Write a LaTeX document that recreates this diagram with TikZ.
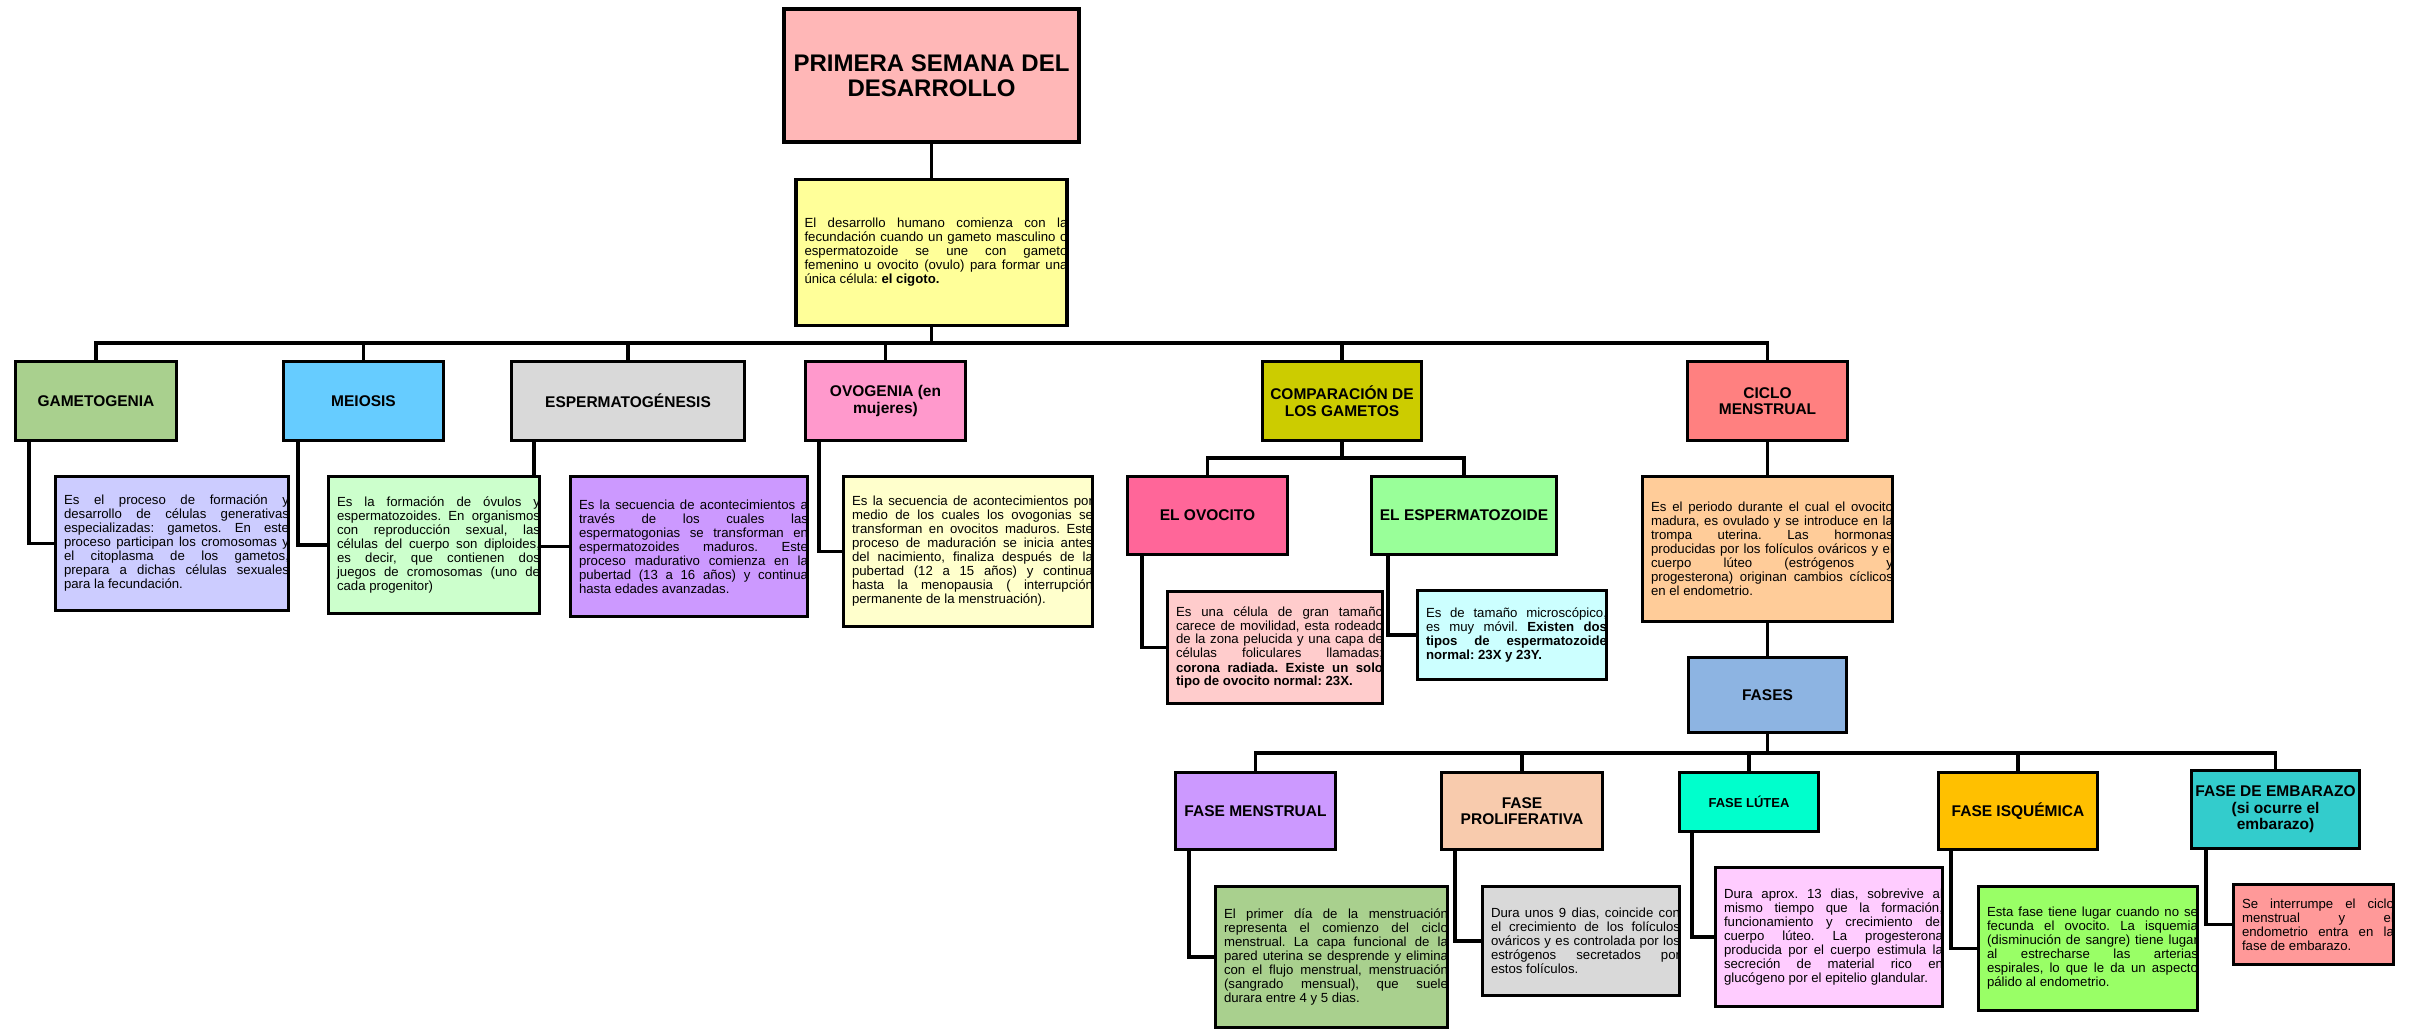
\documentclass[tikz,border=0pt]{standalone}
\usepackage{fontspec}
\setmainfont{Liberation Sans}
\usetikzlibrary{positioning}
\usetikzlibrary{backgrounds}

\definecolor{cTitulo}{HTML}{FFB7B7}
\definecolor{cIntro}{HTML}{FFFF99}
\definecolor{cGameto}{HTML}{A9D08E}
\definecolor{cMeiosis}{HTML}{66CCFF}
\definecolor{cEspermato}{HTML}{D9D9D9}
\definecolor{cOvogenia}{HTML}{FF99CC}
\definecolor{cComparacion}{HTML}{CCCC00}
\definecolor{cCiclo}{HTML}{FF8080}
\definecolor{cOvocito}{HTML}{FF6699}
\definecolor{cEspermz}{HTML}{99FF99}
\definecolor{cFases}{HTML}{8DB4E2}
\definecolor{cMenstrual}{HTML}{CC99FF}
\definecolor{cProlif}{HTML}{F8CBAD}
\definecolor{cLutea}{HTML}{00FFCC}
\definecolor{cIsquemica}{HTML}{FFC000}
\definecolor{cEmbarazo}{HTML}{33CCCC}
\definecolor{dGameto}{HTML}{CCCCFF}
\definecolor{dMeiosis}{HTML}{CCFFCC}
\definecolor{dEspermato}{HTML}{CC99FF}
\definecolor{dOvogenia}{HTML}{FFFFCC}
\definecolor{dOvocito}{HTML}{FFCCCC}
\definecolor{dEspermz}{HTML}{CCFFFF}
\definecolor{dCiclo}{HTML}{FFCC99}
\definecolor{dMenstrual}{HTML}{A9D08E}
\definecolor{dProlif}{HTML}{D9D9D9}
\definecolor{dLutea}{HTML}{FFCCFF}
\definecolor{dIsquemica}{HTML}{99FF66}
\definecolor{dEmbarazo}{HTML}{FF9999}

\newcommand{\letraTitulo}{\fontsize{24}{24.5}\selectfont\bfseries}
\newcommand{\letraCaja}{\fontsize{15.5}{16.5}\selectfont\bfseries}
\newcommand{\letraDesc}{\fontsize{13.2}{14}\selectfont\frenchspacing
  \tolerance=10000 \hyphenpenalty=10000 \exhyphenpenalty=10000}

\tikzset{
  caja/.style={draw, line width=3.5pt, inner sep=0pt, align=center, font=\letraCaja},
  desc/.style n args={3}{draw, line width=3.5pt, fill=#1, inner sep=0pt,
    path picture={\node[anchor=west, inner sep=0pt, outer sep=0pt, minimum width=0pt, minimum height=0pt,
      text width=#2, align=justify, font=\letraDesc]
      at ([xshift=8.5pt]path picture bounding box.west) {#3};}},
  con/.style={line width=3.5pt},
}

\begin{document}
\begin{tikzpicture}[x=1pt, y=-1pt]
  \useasboundingbox (0,0) rectangle (2419,1028);

  % tronco
  \node[caja, fill=cTitulo, line width=4pt, minimum width=295, minimum height=133, font=\letraTitulo] (titulo) at (931.5,75.5) {PRIMERA SEMANA DEL\\DESARROLLO};
  \node[desc={cIntro}{263}{El desarrollo humano comienza con la\linebreak fecundación cuando un gameto masculino o\linebreak espermatozoide se une con gameto\linebreak femenino u ovocito (ovulo) para formar una\linebreak única célula: \textbf{el cigoto.}}, minimum width=271, minimum height=146] (intro) at (931.5,252.5) {};
  \coordinate (bus1) at (931.5,343);

  % primer nivel
  \node[caja, fill=cGameto, minimum width=161, minimum height=79] (gameto) at (96,401) {GAMETOGENIA};
  \node[caja, fill=cMeiosis, minimum width=160, minimum height=79] (meiosis) at (363.5,401) {MEIOSIS};
  \node[caja, fill=cEspermato, minimum width=233, minimum height=79] (espermato) at (628,401) {ESPERMATOGÉNESIS};
  \node[caja, fill=cOvogenia, minimum width=160, minimum height=79] (ovogenia) at (885.5,401) {OVOGENIA (en\\mujeres)};
  \node[caja, fill=cComparacion, minimum width=159, minimum height=79] (comparacion) at (1342,401) {COMPARACIÓN DE\\LOS GAMETOS};
  \node[caja, fill=cCiclo, minimum width=160, minimum height=79] (ciclo) at (1767.5,401) {CICLO\\MENSTRUAL};

  % descripciones del primer nivel
  \node[desc={dGameto}{225}{Es el proceso de formación y\linebreak desarrollo de células generativas\linebreak especializadas: gametos. En este\linebreak proceso participan los cromosomas y\linebreak el citoplasma de los gametos,\linebreak prepara a dichas células sexuales\linebreak para la fecundación.}, minimum width=233, minimum height=134] (gametod) at (172,543.5) {};
  \node[desc={dMeiosis}{203}{Es la formación de óvulos y\linebreak espermatozoides. En organismos\linebreak con reproducción sexual, las\linebreak células del cuerpo son diploides,\linebreak es decir, que contienen dos\linebreak juegos de cromosomas (uno de\linebreak cada progenitor)}, minimum width=211, minimum height=137] (meiosisd) at (434,545) {};
  \node[desc={dEspermato}{229}{Es la secuencia de acontecimientos a\linebreak través de los cuales las\linebreak espermatogonias se transforman en\linebreak espermatozoides maduros. Este\linebreak proceso madurativo comienza en la\linebreak pubertad (13 a 16 años) y continua\linebreak hasta edades avanzadas.}, minimum width=237, minimum height=140] (espermatod) at (689,546.5) {};
  \node[desc={dOvogenia}{241}{Es la secuencia de acontecimientos por\linebreak medio de los cuales los ovogonias se\linebreak transforman en ovocitos maduros. Este\linebreak proceso de maduración se inicia antes\linebreak del nacimiento, finaliza después de la\linebreak pubertad (12 a 15 años) y continua\linebreak hasta la menopausia ( interrupción\linebreak permanente de la menstruación).}, minimum width=249, minimum height=150] (ovogeniad) at (968,551.5) {};

  % gametos
  \coordinate (bus2) at (1342,458);
  \node[caja, fill=cOvocito, minimum width=160, minimum height=78] (ovocito) at (1207.5,515.5) {EL OVOCITO};
  \node[caja, fill=cEspermz, minimum width=185, minimum height=78] (espermz) at (1464,515.5) {EL ESPERMATOZOIDE};
  \node[desc={dOvocito}{207}{Es una célula de gran tamaño\linebreak carece de movilidad, esta rodeado\linebreak de la zona pelucida y una capa de\linebreak células foliculares llamadas;\linebreak \textbf{corona radiada. Existe un solo}\linebreak \textbf{tipo de ovocito normal: 23X.}}, minimum width=215, minimum height=112] (ovocitod) at (1275,647.5) {};
  \node[desc={dEspermz}{181}{Es de tamaño microscópico,\linebreak es muy móvil. \textbf{Existen dos}\linebreak \textbf{tipos de espermatozoide}\linebreak \textbf{normal: 23X y 23Y.}}, minimum width=189, minimum height=89] (espermzd) at (1512,635) {};

  % ciclo menstrual
  \node[desc={dCiclo}{242}{Es el periodo durante el cual el ovocito\linebreak madura, es ovulado y se introduce en la\linebreak trompa uterina. Las hormonas\linebreak producidas por los folículos ováricos y el\linebreak cuerpo lúteo (estrógenos y\linebreak progesterona) originan cambios cíclicos\linebreak en el endometrio.}, minimum width=250, minimum height=145] (ciclod) at (1767.5,549) {};
  \node[caja, fill=cFases, minimum width=158, minimum height=75] (fases) at (1767.5,695) {FASES};
  \coordinate (bus3) at (1767.5,753);

  % fases
  \node[caja, fill=cMenstrual, minimum width=160, minimum height=77] (menstrual) at (1255.5,811) {FASE MENSTRUAL};
  \node[caja, fill=cProlif, minimum width=161, minimum height=77] (prolif) at (1522,811) {FASE\\PROLIFERATIVA};
  \node[caja, fill=cLutea, minimum width=139, minimum height=59, font=\fontsize{13}{14}\selectfont\bfseries] (lutea) at (1749,802) {FASE LÚTEA};
  \node[caja, fill=cIsquemica, minimum width=159, minimum height=77] (isquemica) at (2018,811) {FASE ISQUÉMICA};
  \node[caja, fill=cEmbarazo, minimum width=168, minimum height=78] (embarazo) at (2275.5,809.5) {FASE DE EMBARAZO\\(si ocurre el\\embarazo)};

  \node[desc={dMenstrual}{224}{El primer día de la menstruación\linebreak representa el comienzo del ciclo\linebreak menstrual. La capa funcional de la\linebreak pared uterina se desprende y elimina\linebreak con el flujo menstrual, menstruación\linebreak (sangrado mensual), que suele\linebreak durara entre 4 y 5 dias.}, minimum width=232, minimum height=141] (menstruald) at (1331.5,957) {};
  \node[desc={dProlif}{189}{Dura unos 9 dias, coincide con\linebreak el crecimiento de los folículos\linebreak ováricos y es controlada por los\linebreak estrógenos secretados por\linebreak estos folículos.}, minimum width=197, minimum height=109] (prolifd) at (1581,941) {};
  \node[desc={dLutea}{219}{Dura aprox. 13 dias, sobrevive al\linebreak mismo tiempo que la formación,\linebreak funcionamiento y crecimiento del\linebreak cuerpo lúteo. La progesterona\linebreak producida por el cuerpo estimula la\linebreak secreción de material rico en\linebreak glucógeno por el epitelio glandular.}, minimum width=227, minimum height=139] (lutead) at (1829,937) {};
  \node[desc={dIsquemica}{211}{Esta fase tiene lugar cuando no se\linebreak fecunda el ovocito. La isquemia\linebreak (disminución de sangre) tiene lugar\linebreak al estrecharse las arterias\linebreak espirales, lo que le da un aspecto\linebreak pálido al endometrio.}, minimum width=219, minimum height=124] (isquemicad) at (2088,948.5) {};
  \node[desc={dEmbarazo}{152}{Se interrumpe el ciclo\linebreak menstrual y el\linebreak endometrio entra en la\linebreak fase de embarazo.}, minimum width=160, minimum height=80] (embarazod) at (2313.5,924.5) {};

  % conectores (debajo de las cajas)
  \begin{pgfonlayer}{background}
    \draw[con] (titulo) -- (intro);
    \draw[con] (intro.south) -- (bus1);
    \foreach \n in {gameto,meiosis,espermato,ovogenia,comparacion,ciclo}
      \draw[con] (bus1) -| (\n.north);
    \draw[con] (comparacion.south) -- (bus2);
    \foreach \n in {ovocito,espermz}
      \draw[con] (bus2) -| (\n.north);
    \draw[con] (ciclo) -- (ciclod);
    \draw[con] (ciclod) -- (fases);
    \draw[con] (fases.south) -- (bus3);
    \foreach \n in {menstrual,prolif,lutea,isquemica,embarazo}
      \draw[con] (bus3) -| (\n.north);
    % codos hacia las descripciones
    \foreach \a/\b/\s in {gameto/gametod/15, meiosis/meiosisd/16, espermato/espermatod/24,
        ovogenia/ovogeniad/15, ovocito/ovocitod/16, espermz/espermzd/18,
        menstrual/menstruald/15, prolif/prolifd/15, lutea/lutead/14,
        isquemica/isquemicad/14, embarazo/embarazod/16}
      \draw[con] ([xshift=\s pt]\a.south west) |- (\b.west);
  \end{pgfonlayer}
\end{tikzpicture}
\end{document}
